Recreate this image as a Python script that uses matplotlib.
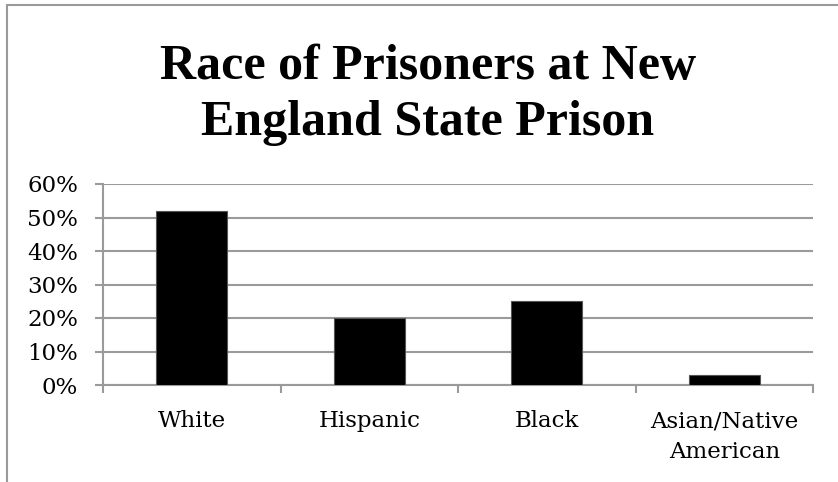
import matplotlib
matplotlib.use("Agg")
import matplotlib.pyplot as plt
from matplotlib.patches import Rectangle
from matplotlib.ticker import FixedLocator, PercentFormatter
import numpy as np

categories = ["White", "Hispanic", "Black", "Asian/Native\nAmerican"]
shares = [52, 20, 25, 3]
y_ticks = [0, 10, 20, 30, 40, 50, 60]
title_lines = ["Race of Prisoners at New", "England State Prison"]

W, H = 838, 482
fig = plt.figure(figsize=(W / 100, H / 100), dpi=100)
fig.patch.set_facecolor("white")

# chart frame (left and top edges fall inside the image)
fig.add_artist(Rectangle((7 / W, -0.1), 1.2, (H - 5) / H + 0.1, transform=fig.transFigure,
                         fill=False, edgecolor="#9a9a9a", linewidth=1.5))

ax = fig.add_axes([103 / W, (H - 385) / H, (813 - 103) / W, (385 - 184) / H])
x = np.arange(len(categories))
ax.bar(x, shares, width=0.4, color="black", edgecolor="#555555", linewidth=0.8, zorder=3)

ax.set_xlim(-0.5, len(categories) - 0.5)
ax.set_ylim(0, 60)
ax.yaxis.set_major_locator(FixedLocator(y_ticks))
ax.yaxis.set_major_formatter(PercentFormatter(decimals=0))
ax.grid(axis="y", color="#9a9a9a", linewidth=1.5, zorder=0)

for s in ["top", "right"]:
    ax.spines[s].set_visible(False)
for s in ["left", "bottom"]:
    ax.spines[s].set_color("#9a9a9a")
    ax.spines[s].set_linewidth(1.5)

serif = ["DejaVu Serif"]
ax.set_xticks(np.arange(len(categories) + 1) - 0.5)
ax.set_xticklabels([])
ax.set_xticks(x, minor=True)
ax.set_xticklabels(categories, minor=True, family=serif, fontsize=16.5, linespacing=1.55)
ax.tick_params(axis="x", which="major", length=6, width=1.5, color="#9a9a9a", direction="out")
ax.tick_params(axis="x", which="minor", length=0, pad=18)
ax.tick_params(axis="y", length=6, width=1.5, color="#9a9a9a", pad=12)
for lbl in ax.get_yticklabels():
    lbl.set_family(serif)
    lbl.set_fontsize(16.5)

for line, base in zip(title_lines, [79, 135]):
    fig.text(428 / W, 1 - base / H, line, ha="center", va="baseline",
             family=["Liberation Serif"], fontweight="bold", fontsize=36)

fig.savefig("out.png", dpi=100)
